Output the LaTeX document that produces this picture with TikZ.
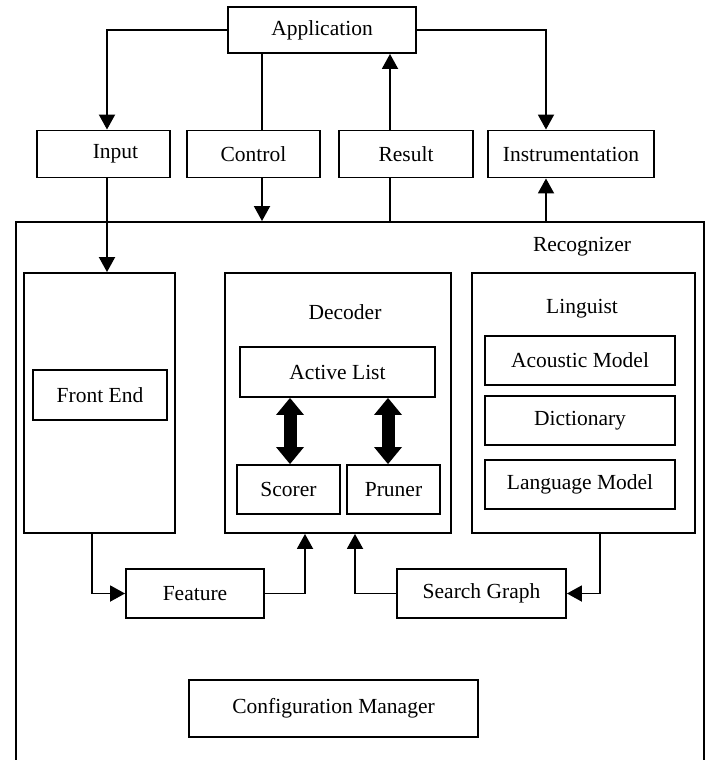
\documentclass[tikz,border=0pt]{standalone}
\usepackage{fontspec}
\setmainfont{Liberation Serif}
\usetikzlibrary{arrows.meta}
\begin{document}
\begin{tikzpicture}[x=1pt,y=-1pt,
  box/.style={draw, line width=1.9pt, rectangle, inner sep=0pt, font=\fontsize{21.5}{24}\selectfont},
  lbl/.style={inner sep=0pt, font=\fontsize{21.5}{24}\selectfont},
  conn/.style={line width=1.9pt},
  arr/.style={conn, -{Triangle[width=16pt,length=15pt]}},
  fat/.style={line width=13pt, {Triangle[width=28pt,length=17pt,line width=0pt]}-{Triangle[width=28pt,length=17pt,line width=0pt]}}
]
\useasboundingbox (0,0) rectangle (709,760);

% outer recognizer
\node[box, minimum width=688pt, minimum height=578pt] (rec) at (360,511) {};
\node[lbl] (recl) at (582,247) {Recognizer};

% top row
\node[box, minimum width=188pt, minimum height=46pt] (app) at (322,30) {Application};
\node[box, minimum width=133pt, minimum height=47pt] (inp) at (103.5,154) {\hspace*{24pt}Input};
\node[box, minimum width=133pt, minimum height=47pt] (ctl) at (253.5,154) {Control};
\node[box, minimum width=134pt, minimum height=47pt] (res) at (406,154) {Result};
\node[box, minimum width=166pt, minimum height=47pt] (inst) at (571,154) {Instrumentation};

% front end
\node[box, minimum width=151pt, minimum height=260pt] (feo) at (99.5,403) {};
\node[box, minimum width=134pt, minimum height=50pt] (fe) at (100,395) {Front End};

% decoder
\node[box, minimum width=226pt, minimum height=260pt] (dec) at (338,403) {};
\node[lbl] (decl) at (345,312) {Decoder};
\node[box, minimum width=195pt, minimum height=50pt] (al) at (337.5,372) {Active List};
\node[box, minimum width=103pt, minimum height=49pt] (sc) at (288.5,489.5) {Scorer};
\node[box, minimum width=93pt, minimum height=49pt] (pr) at (393.5,489.5) {Pruner};

% linguist
\node[box, minimum width=223pt, minimum height=260pt] (lin) at (583.5,403) {};
\node[lbl] (linl) at (582,309) {Linguist};
\node[box, minimum width=190pt, minimum height=49pt] (am) at (580,360.5) {Acoustic Model};
\node[box, minimum width=190pt, minimum height=49pt] (dic) at (580,420.5) {Dictionary};
\node[box, minimum width=190pt, minimum height=49pt] (lm) at (580,484.5) {Language Model};

% lower row
\node[box, minimum width=138pt, minimum height=49pt] (feat) at (195,593.5) {Feature};
\node[box, minimum width=169pt, minimum height=49pt] (sg) at (481.5,593.5) {Search Graph};
\node[box, minimum width=289pt, minimum height=57pt] (cm) at (333.5,708.5) {Configuration Manager};

% x positions of connectors
\coordinate (xin) at (107,0);
\coordinate (xct) at (262,0);
\coordinate (xre) at (390,0);
\coordinate (xis) at (546,0);
\coordinate (xfe) at (92,0);
\coordinate (xfr) at (305,0);
\coordinate (xsg) at (355,0);
\coordinate (xli) at (600,0);
\coordinate (xs1) at (290,0);
\coordinate (xs2) at (388,0);

% connectors
\draw[arr] (app.west) -| (inp.north -| xin);
\draw[conn] (app.south -| xct) -- (ctl.north -| xct);
\draw[arr] (ctl.south -| xct) -- (rec.north -| xct);
\draw[conn] (rec.north -| xre) -- (res.south -| xre);
\draw[arr] (res.north -| xre) -- (app.south -| xre);
\draw[arr] (app.east) -| (inst.north -| xis);
\draw[arr] (rec.north -| xis) -- (inst.south -| xis);
\draw[arr] (inp.south -| xin) -- (feo.north -| xin);
\draw[arr] (feo.south -| xfe) |- (feat.west);
\draw[arr] (feat.east) -| (dec.south -| xfr);
\draw[arr] (sg.west) -| (dec.south -| xsg);
\draw[arr] (lin.south -| xli) |- (sg.east);
\draw[fat] (al.south -| xs1) -- (sc.north -| xs1);
\draw[fat] (al.south -| xs2) -- (pr.north -| xs2);
\end{tikzpicture}
\end{document}
